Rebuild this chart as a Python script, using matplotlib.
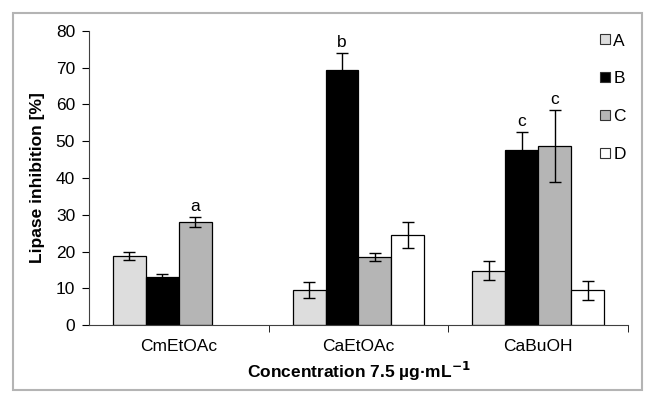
import numpy as np
import matplotlib
matplotlib.use("Agg")
import matplotlib.pyplot as plt
from matplotlib.patches import Rectangle
from matplotlib.lines import Line2D

categories = ["CmEtOAc", "CaEtOAc", "CaBuOH"]
series = ["A", "B", "C", "D"]
vals_A = [18.9, 9.6, 14.8]
vals_B = [13.1, 69.4, 47.6]
vals_C = [28.0, 18.5, 48.8]
vals_D = [0.0, 24.5, 9.5]
err_A = [1.1, 2.2, 2.5]
err_B = [0.7, 4.5, 5.0]
err_C = [1.4, 1.2, 9.8]
err_D = [0.0, 3.5, 2.6]
letters = {("C", 0): "a", ("B", 1): "b", ("B", 2): "c", ("C", 2): "c"}
colors = ["#dddddd", "#000000", "#b5b5b5", "#ffffff"]

plt.rcParams['font.family'] = ['Liberation Sans', 'DejaVu Sans']

fig = plt.figure(figsize=(6.56, 4.05), dpi=100)
# chart-area border
fig.patches.append(Rectangle((13/656, 1-390/405), (642-13)/656, (390-13)/405,
                             transform=fig.transFigure, fill=False,
                             edgecolor="#b4b4b4", linewidth=1.5))
ax = fig.add_axes([89/656, 1-325/405, (628-89)/656, (325-31)/405])

vals = [vals_A, vals_B, vals_C, vals_D]
errs = [err_A, err_B, err_C, err_D]
n = len(series)
gap = 1.45
w = 1.0 / (n + gap)
x = np.arange(len(categories))
for i, s in enumerate(series):
    pos = x - 0.5 + gap * w / 2 + (i + 0.5) * w
    v = np.array(vals[i]); e = np.array(errs[i])
    mask = v > 0
    ax.bar(pos[mask], v[mask], width=w, color=colors[i], edgecolor="black",
           linewidth=0.9, label=s, zorder=2)
    ax.errorbar(pos[mask], v[mask], yerr=e[mask], fmt="none", ecolor="black",
                elinewidth=1.0, capsize=4, capthick=1.0, zorder=3)
    for j in range(len(categories)):
        if (s, j) in letters:
            ax.text(pos[j], v[j] + e[j] + 0.8, letters[(s, j)], ha="center",
                    va="bottom", fontsize=12.5)

ax.set_xlim(-0.5, len(categories) - 0.5)
ax.set_ylim(0, 80)
ax.set_yticks(range(0, 81, 10))
ax.set_xticks(x)
ax.set_xticklabels(categories, fontsize=12.5)
ax.set_xticks(np.arange(0.5, len(categories) - 0.4, 1), minor=True)
ax.tick_params(axis="x", which="major", length=0, pad=10)
ax.tick_params(axis="x", which="minor", length=5, direction="out")
ax.tick_params(axis="y", labelsize=12.5, length=5, direction="out", pad=5)
for sp in ["top", "right"]:
    ax.spines[sp].set_visible(False)
ax.spines["left"].set_color("#404040")
ax.spines["bottom"].set_color("#404040")
ax.set_ylabel("Lipase inhibition [%]", fontsize=12.5, fontweight="bold", labelpad=8)
ax.set_xlabel("Concentration 7.5 µg·mL$^{\\mathbf{-1}}$", fontsize=12.5,
              fontweight="bold", labelpad=4)

handles = [Line2D([], [], marker="s", linestyle="none", markersize=7,
                  markerfacecolor=c, markeredgecolor="#333333", markeredgewidth=0.8)
           for c in colors]
ax.legend(handles, series, loc="upper right", bbox_to_anchor=(1.025, 1.045),
          frameon=False, fontsize=12.5, handlelength=0.7, handletextpad=0.15,
          labelspacing=1.3)

fig.savefig("out.png", dpi=100)
